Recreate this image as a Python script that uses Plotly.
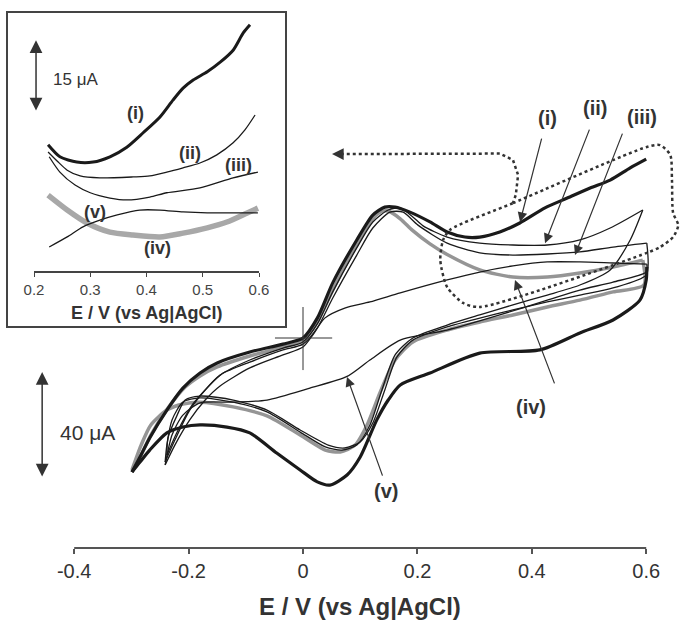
import plotly.graph_objects as go

FONT = "Arial, 'Liberation Sans', sans-serif"
BLACK = "#1a1a1a"
GRAY = "#959595"

# ---------------- main cyclic voltammograms (E / V, I / uA) ----------------
# (i) thick black
E_i_fwd = [-0.299, -0.285, -0.268, -0.238, -0.210, -0.180, -0.150, -0.093, -0.035, 0.0, 0.025, 0.052, 0.094, 0.122, 0.143, 0.161, 0.187, 0.222, 0.252, 0.283, 0.309, 0.344, 0.379, 0.423, 0.462, 0.502, 0.537, 0.572, 0.600]
I_i_fwd = [-50.6, -44.9, -37.7, -27.2, -18.9, -13.2, -9.4, -5.3, -2.3, 0.0, 7.5, 20.8, 37.0, 46.4, 49.4, 49.4, 47.5, 43.8, 40.0, 38.1, 38.1, 40.0, 43.4, 49.1, 52.8, 56.6, 59.6, 64.2, 67.5]
E_i_rev = [0.601, 0.600, 0.589, 0.542, 0.484, 0.414, 0.309, 0.222, 0.170, 0.149, 0.129, 0.100, 0.077, 0.047, 0.025, -0.005, -0.046, -0.093, -0.133, -0.180, -0.210, -0.238, -0.268, -0.285, -0.299]
I_i_rev = [26.8, 21.9, 14.3, 6.8, 1.9, -4.5, -5.7, -13.2, -17.7, -23.4, -30.9, -44.9, -51.7, -55.5, -54.3, -49.8, -43.4, -35.8, -33.6, -32.8, -33.6, -35.8, -42.3, -46.8, -50.6]

# (ii) thin black
E_ii_fwd = [-0.241, -0.224, -0.198, -0.171, -0.145, -0.093, -0.035, 0.0, 0.025, 0.052, 0.094, 0.122, 0.149, 0.170, 0.192, 0.210, 0.252, 0.309, 0.367, 0.427, 0.484, 0.537, 0.594]
I_ii_fwd = [-46.8, -38.5, -27.2, -19.6, -14.0, -8.3, -3.8, -1.5, 5.3, 17.4, 34.0, 43.8, 48.3, 49.1, 45.7, 42.3, 38.1, 35.8, 35.1, 35.1, 37.0, 41.5, 48.3]
E_ii_rev = [0.594, 0.572, 0.537, 0.484, 0.427, 0.367, 0.309, 0.252, 0.192, 0.161, 0.138, 0.117, 0.094, 0.068, 0.039, -0.005, -0.063, -0.122, -0.180, -0.210, -0.229, -0.238, -0.241]
I_ii_rev = [48.3, 37.0, 25.7, 20.0, 16.2, 12.5, 8.7, 4.9, 0.0, -6.4, -19.6, -32.8, -40.4, -42.3, -41.1, -35.5, -27.9, -24.2, -22.6, -24.2, -30.9, -40.4, -46.8]

# (iii) thin black
E_iii_fwd = [-0.238, -0.220, -0.194, -0.168, -0.142, -0.093, -0.035, 0.0, 0.025, 0.052, 0.094, 0.122, 0.152, 0.175, 0.201, 0.252, 0.309, 0.367, 0.427, 0.484, 0.542, 0.601]
I_iii_fwd = [-44.2, -35.5, -25.3, -18.9, -13.6, -9.1, -4.5, -2.3, 3.8, 15.1, 31.3, 41.5, 47.5, 47.5, 42.6, 35.8, 32.1, 31.3, 31.7, 32.5, 34.3, 35.8]
E_iii_rev = [0.601, 0.600, 0.542, 0.484, 0.427, 0.367, 0.309, 0.252, 0.192, 0.164, 0.143, 0.122, 0.100, 0.073, 0.044, -0.005, -0.063, -0.122, -0.180, -0.206, -0.220, -0.236, -0.238]
I_iii_rev = [35.8, 23.8, 18.9, 16.2, 13.6, 10.6, 7.5, 4.2, -0.8, -7.2, -19.6, -32.1, -39.2, -41.5, -40.4, -34.7, -27.2, -23.4, -21.9, -23.4, -29.1, -37.7, -44.2]

# (iv) thick grey
E_iv_fwd = [-0.299, -0.283, -0.266, -0.236, -0.206, -0.180, -0.150, -0.093, -0.035, 0.0, 0.025, 0.052, 0.091, 0.117, 0.135, 0.149, 0.170, 0.192, 0.222, 0.252, 0.309, 0.367, 0.427, 0.484, 0.542, 0.594]
I_iv_fwd = [-50.6, -44.2, -36.6, -26.4, -18.5, -14.3, -10.9, -6.8, -3.4, -1.1, 6.0, 18.1, 34.0, 43.8, 47.5, 47.9, 45.0, 40.5, 35.5, 31.5, 25.7, 23.0, 23.0, 24.5, 26.8, 29.4]
E_iv_rev = [0.594, 0.596, 0.542, 0.484, 0.427, 0.367, 0.309, 0.252, 0.192, 0.161, 0.135, 0.112, 0.091, 0.065, 0.039, -0.005, -0.063, -0.122, -0.180, -0.210, -0.238, -0.266, -0.283, -0.299]
I_iv_rev = [29.4, 20.0, 17.4, 14.3, 11.7, 8.7, 6.0, 3.0, -1.5, -8.3, -20.4, -32.8, -40.4, -43.0, -42.3, -36.6, -29.4, -26.0, -24.2, -24.9, -27.2, -32.8, -40.4, -49.8]

# (v) thin black
E_v_fwd = [-0.241, -0.224, -0.198, -0.171, -0.145, -0.093, -0.035, 0.0, 0.017, 0.038, 0.073, 0.117, 0.170, 0.252, 0.309, 0.367, 0.427, 0.484, 0.542, 0.601]
I_v_fwd = [-47.9, -40.4, -30.9, -23.4, -18.1, -11.3, -6.4, -3.4, 1.1, 7.5, 11.3, 13.6, 17.0, 21.9, 24.9, 27.2, 28.7, 28.7, 28.3, 27.9]
E_v_rev = [0.601, 0.600, 0.542, 0.484, 0.427, 0.344, 0.252, 0.170, 0.117, 0.077, 0.012, -0.063, -0.122, -0.180, -0.210, -0.229, -0.241]
I_v_rev = [27.9, 24.9, 21.1, 18.1, 14.3, 8.7, 3.0, -0.8, -8.3, -14.5, -18.9, -23.4, -24.2, -24.5, -29.1, -36.6, -47.9]

# ---------------- inset (0.2 - 0.6 V, forward scans) ----------------
Ein_i = [0.225, 0.246, 0.276, 0.305, 0.335, 0.365, 0.394, 0.424, 0.447, 0.465, 0.483, 0.508, 0.531, 0.554, 0.572, 0.584]
Iin_i = [26.3, 23.8, 22.7, 22.7, 23.8, 25.8, 28.8, 32.1, 35.6, 38.1, 39.8, 41.5, 43.5, 46.0, 49.6, 51.3]
Ein_ii = [0.225, 0.243, 0.259, 0.282, 0.317, 0.376, 0.406, 0.436, 0.465, 0.495, 0.525, 0.554, 0.575, 0.593]
Iin_ii = [24.8, 22.7, 21.0, 19.8, 19.4, 19.6, 19.8, 20.6, 21.5, 22.5, 24.2, 26.7, 29.4, 32.5]
Ein_iii = [0.227, 0.246, 0.273, 0.300, 0.335, 0.365, 0.406, 0.436, 0.495, 0.554, 0.598]
Iin_iii = [23.8, 20.6, 17.9, 16.3, 15.2, 14.8, 15.4, 16.3, 17.3, 19.4, 20.6]
Ein_iv = [0.225, 0.259, 0.294, 0.335, 0.376, 0.424, 0.465, 0.508, 0.543, 0.579, 0.598]
Iin_iv = [15.8, 12.7, 10.0, 8.1, 7.5, 7.1, 7.9, 9.0, 10.2, 12.1, 13.1]
Ein_v = [0.227, 0.259, 0.287, 0.317, 0.348, 0.388, 0.424, 0.465, 0.508, 0.554, 0.598]
Iin_v = [5.0, 7.1, 9.2, 10.6, 11.7, 12.7, 12.7, 12.3, 12.1, 12.1, 12.1]

# ---------------- labels ----------------
LABELS = ["(i)", "(ii)", "(iii)", "(iv)", "(v)"]
lab_E = [0.4266, 0.5105, 0.5927, 0.3986, 0.1451]
lab_I = [83.0, 86.8, 83.4, -26.0, -57.7]
tail_E = [0.4178, 0.5017, 0.5594, 0.4406, 0.1399]
tail_I = [75.8, 79.2, 77.7, -17.7, -52.5]
tip_E = [0.3794, 0.4231, 0.4755, 0.3706, 0.0769]
tip_I = [43.8, 35.8, 31.3, 21.9, -14.7]

in_lab_E = [0.3796, 0.4773, 0.5644, 0.4187, 0.3084]
in_lab_I = [32.9, 24.6, 22.1, 4.8, 12.3]

XTICKS = [-0.4, -0.2, 0, 0.2, 0.4, 0.6]
XTICKTEXT = ["-0.4", "-0.2", "0", "0.2", "0.4", "0.6"]
IN_XTICKS = [0.2, 0.3, 0.4, 0.5, 0.6]
IN_XTICKTEXT = ["0.2", "0.3", "0.4", "0.5", "0.6"]

# callout (dotted) path
call_E = [0.066, 0.344, 0.367, 0.376, 0.372, 0.367]
call_I = [69.4, 69.6, 67.2, 61.5, 54.0, 50.9]
box_E = [0.257, 0.367, 0.601, 0.624, 0.642, 0.645, 0.647, 0.656, 0.647, 0.624, 0.601, 0.309, 0.280, 0.252, 0.240, 0.245, 0.257]
box_I = [40.8, 50.9, 72.1, 72.8, 69.1, 59.6, 47.2, 42.6, 38.1, 34.3, 32.1, 11.7, 13.2, 19.2, 29.4, 37.0, 40.8]

# axis ranges (main axes span whole figure)
X_LO, X_HI = -0.5297, 0.6608
Y_LO, Y_HI = -108.3, 127.55
AXIS_I = -79.25
IN_Y_HI = 53.96

fig = go.Figure()


def add(E, I, color, width, xa="x", ya="y", dash="solid", shape="spline"):
    fig.add_trace(go.Scatter(x=E, y=I, mode="lines", xaxis=xa, yaxis=ya,
                             line=dict(color=color, width=width, dash=dash, shape=shape, smoothing=0.7),
                             hoverinfo="skip", showlegend=False))


# main curves: grey first, then thin black, then thick black
add(E_iv_fwd, I_iv_fwd, GRAY, 3.5)
add(E_iv_rev, I_iv_rev, GRAY, 3.5)
for E, I in [(E_ii_fwd, I_ii_fwd), (E_ii_rev, I_ii_rev), (E_iii_fwd, I_iii_fwd),
             (E_iii_rev, I_iii_rev), (E_v_fwd, I_v_fwd), (E_v_rev, I_v_rev)]:
    add(E, I, BLACK, 1.3)
add(E_i_fwd, I_i_fwd, BLACK, 3.2)
add(E_i_rev, I_i_rev, BLACK, 3.2)

# dotted callout
add(call_E, call_I, "#333333", 2.5, dash="dot", shape="linear")
add(box_E, box_I, "#333333", 2.5, dash="dot", shape="spline")

# inset curves
add(Ein_iv, Iin_iv, "#a8a8a8", 5.5, "x2", "y2")
add(Ein_ii, Iin_ii, BLACK, 1.3, "x2", "y2")
add(Ein_iii, Iin_iii, BLACK, 1.3, "x2", "y2")
add(Ein_v, Iin_v, BLACK, 1.3, "x2", "y2")
add(Ein_i, Iin_i, BLACK, 3.0, "x2", "y2")

ann = []
for lab, x, y, tx, ty, hx, hy in zip(LABELS, lab_E, lab_I, tail_E, tail_I, tip_E, tip_I):
    ann.append(dict(x=x, y=y, xref="x", yref="y", text="<b>%s</b>" % lab, showarrow=False,
                    xanchor="center", yanchor="middle",
                    font=dict(family=FONT, size=20, color="#333")))
    ann.append(dict(x=hx, y=hy, ax=tx, ay=ty, xref="x", yref="y", axref="x", ayref="y", text="",
                    showarrow=True, arrowhead=2, arrowsize=1.6, arrowwidth=1.2, arrowcolor="#333"))
for lab, x, y in zip(LABELS, in_lab_E, in_lab_I):
    ann.append(dict(x=x, y=y, xref="x2", yref="y2", text="<b>%s</b>" % lab, showarrow=False,
                    xanchor="center", yanchor="middle",
                    font=dict(family=FONT, size=18, color="#333")))

# dotted arrow head
ann.append(dict(x=0.0507, y=69.4, ax=0.068, ay=69.4, xref="x", yref="y", axref="x", ayref="y", text="",
                showarrow=True, arrowhead=2, arrowsize=1.8, arrowwidth=1.3, arrowcolor="#333"))
# scale bars
ann.append(dict(x=-0.456, y=-12.8, ax=-0.456, ay=-52.8, xref="x", yref="y", axref="x", ayref="y", text="",
                showarrow=True, arrowhead=2, arrowside="end+start", arrowsize=1.7, arrowwidth=1.5, arrowcolor="#333"))
ann.append(dict(x=-0.3759, y=-35.8, xref="x", yref="y", text="40 \u03bcA", showarrow=False,
                xanchor="center", yanchor="middle",
                font=dict(family=FONT, size=21, color="#333")))
ann.append(dict(x=0.2036, y=48.1, ax=0.2036, ay=33.1, xref="x2", yref="y2", axref="x2", ayref="y2", text="",
                showarrow=True, arrowhead=2, arrowside="end+start", arrowsize=1.7, arrowwidth=1.5, arrowcolor="#333"))
ann.append(dict(x=0.2729, y=39.8, xref="x2", yref="y2", text="15 \u03bcA", showarrow=False,
                xanchor="center", yanchor="middle",
                font=dict(family=FONT, size=17, color="#333")))
# axis titles
ann.append(dict(x=0.1, y=1 - 606 / 625, xref="x", yref="paper", text="<b>E / V (vs Ag|AgCl)</b>", showarrow=False,
                xanchor="center", yanchor="middle",
                font=dict(family=FONT, size=24, color="#333")))
ann.append(dict(x=0.4, y=1 - 313 / 625, xref="x2", yref="paper", text="<b>E / V (vs Ag|AgCl)</b>", showarrow=False,
                xanchor="center", yanchor="middle",
                font=dict(family=FONT, size=18, color="#333")))

shapes = [
    dict(type="line", xref="x", yref="y", x0=-0.4, x1=0.6, y0=AXIS_I, y1=AXIS_I, line=dict(color="#555", width=2)),
    dict(type="line", xref="x", yref="y", x0=0, x1=0, y0=-12.1, y1=11.7, line=dict(color="#333", width=1)),
    dict(type="line", xref="x", yref="y", x0=-0.049, x1=0.051, y0=0, y1=0, line=dict(color="#333", width=1)),
    dict(type="rect", xref="paper", yref="paper", x0=7 / 681, x1=286 / 681, y0=1 - 327 / 625, y1=1 - 12 / 625,
         line=dict(color="#444", width=2), fillcolor="rgba(0,0,0,0)"),
]

fig.update_layout(
    width=681, height=625, margin=dict(l=0, r=0, t=0, b=0, autoexpand=False),
    paper_bgcolor="white", plot_bgcolor="rgba(0,0,0,0)", showlegend=False,
    annotations=ann, shapes=shapes,
    xaxis=dict(domain=[0, 1], range=[X_LO, X_HI], anchor="free", automargin=False,
               position=(AXIS_I - Y_LO) / (Y_HI - Y_LO),
               tickvals=XTICKS, ticktext=XTICKTEXT, ticks="outside", ticklen=5, tickwidth=1.5,
               tickcolor="#555", showline=False, showgrid=False, zeroline=False,
               tickfont=dict(family=FONT, size=20, color="#333")),
    yaxis=dict(domain=[0, 1], range=[Y_LO, Y_HI], visible=False, automargin=False),
    xaxis2=dict(domain=[34 / 681, 259 / 681], range=[0.2, 0.6], anchor="y2", automargin=False,
                tickvals=IN_XTICKS, ticktext=IN_XTICKTEXT, ticks="outside", ticklen=4, tickwidth=1.2,
                tickcolor="#444", showline=True, linecolor="#444", linewidth=1.5,
                showgrid=False, zeroline=False, tickfont=dict(family=FONT, size=15, color="#444")),
    yaxis2=dict(domain=[1 - 271 / 625, 1 - 12 / 625], range=[0, IN_Y_HI], visible=False, automargin=False),
)

fig.write_html("out.html")
